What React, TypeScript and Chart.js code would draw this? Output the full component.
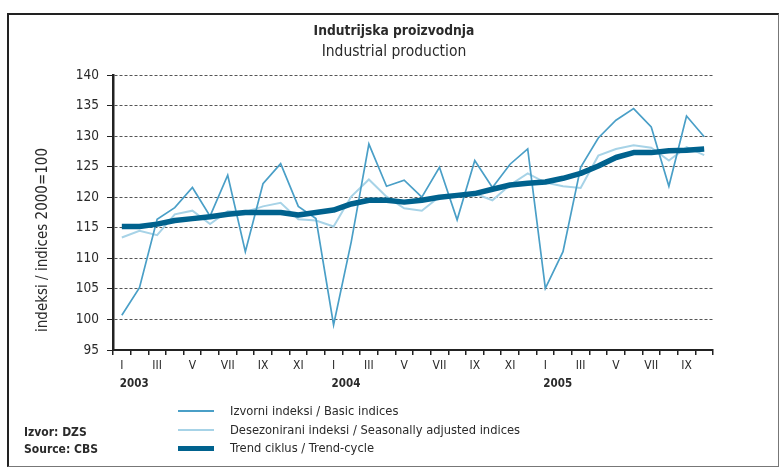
import React, { useEffect, useRef } from "react";
import { Chart, registerables } from "chart.js";

Chart.register(...registerables);

const monthNames = ["I", "II", "III", "IV", "V", "VI", "VII", "VIII", "IX", "X", "XI", "XII"];
const years = ["2003", "2004", "2005"];
const pointCount = 34; // Jan 2003 .. Oct 2005

const basicIndices = [
  100.7, 105.2, 116.4, 118.3, 121.6, 116.9, 123.6, 111.1, 122.2, 125.5, 118.5, 116.5,
  99.1, 112.7, 128.7, 121.8, 122.8, 120.0, 124.9, 116.3, 126.0, 121.6, 125.4, 127.9,
  105.1, 111.1, 124.9, 129.7, 132.6, 134.5, 131.5, 121.8, 133.3, 129.9,
];
const seasonallyAdjusted = [
  113.4, 114.5, 113.8, 117.2, 117.8, 115.6, 117.7, 117.6, 118.5, 119.1, 116.4, 116.2,
  115.2, 120.1, 122.9, 120.1, 118.2, 117.8, 120.1, 120.4, 120.6, 119.5, 122.0, 123.9,
  122.4, 121.8, 121.5, 126.8, 127.9, 128.5, 128.1, 126.0, 128.2, 126.9,
];
const trendCycle = [
  115.2, 115.2, 115.6, 116.2, 116.5, 116.8, 117.2, 117.5, 117.5, 117.5, 117.1, 117.5,
  117.9, 118.9, 119.5, 119.5, 119.2, 119.5, 120.0, 120.3, 120.6, 121.3, 122.0, 122.3,
  122.5, 123.1, 123.9, 125.1, 126.5, 127.3, 127.3, 127.6, 127.7, 127.9,
];
const yMin = 95;
const yMax = 140;
const yStep = 5;

const titleText = "Indutrijska proizvodnja";
const subtitleText = "Industrial production";
const yAxisTitle = "indeksi / indices 2000=100";
const seriesNames = [
  "Izvorni indeksi / Basic indices",
  "Desezonirani indeksi / Seasonally adjusted indices",
  "Trend ciklus / Trend-cycle",
];
const sourceLines = ["Izvor: DZS", "Source: CBS"];

const categories: string[] = [];
for (let i = 0; i < pointCount; i++) {
  categories.push(monthNames[i % 12] + " " + years[Math.floor(i / 12)]);
}

const FONT = '"Liberation Sans Narrow", "DejaVu Sans Condensed", "Liberation Sans", sans-serif';
const COL_BASIC = "#4a9fc7";
const COL_SEAS = "#a7d3e7";
const COL_TREND = "#00628e";
const TEXT = "#2a2a2a";

const extrasPlugin = {
  id: "extras",
  afterDraw(chart: any) {
    const ctx = chart.ctx;
    const xs = chart.scales.x;
    ctx.save();
    ctx.fillStyle = TEXT;
    ctx.font = "bold 11.5px " + FONT;
    ctx.textAlign = "left";
    ctx.textBaseline = "middle";
    years.forEach((yr, k) => {
      const px = xs.getPixelForValue(k * 12);
      ctx.fillText(yr, px - 2, 384);
    });
    ctx.font = "15px " + FONT;
    ctx.textAlign = "center";
    ctx.translate(43, 240);
    ctx.rotate(-Math.PI / 2);
    ctx.fillText(yAxisTitle, 0, 0);
    ctx.restore();
  },
};

export default function App() {
  const ref = useRef<HTMLCanvasElement | null>(null);
  useEffect(() => {
    document.body.style.margin = "0";
    const chart = new Chart(ref.current as HTMLCanvasElement, {
      type: "line",
      data: {
        labels: categories,
        datasets: [
          {
            label: seriesNames[0],
            data: basicIndices,
            borderColor: COL_BASIC,
            borderWidth: 1.7,
            pointRadius: 0,
            tension: 0,
            order: 1,
          },
          {
            label: seriesNames[1],
            data: seasonallyAdjusted,
            borderColor: COL_SEAS,
            borderWidth: 2,
            pointRadius: 0,
            tension: 0,
            order: 2,
          },
          {
            label: seriesNames[2],
            data: trendCycle,
            borderColor: COL_TREND,
            borderWidth: 5.5,
            pointRadius: 0,
            tension: 0,
            borderCapStyle: "butt",
            borderJoinStyle: "round",
            order: 0,
          },
        ],
      },
      options: {
        responsive: false,
        animation: false,
        devicePixelRatio: 1,
        layout: { padding: { top: 75, right: 66, left: 0, bottom: 0 } },
        plugins: { legend: { display: false }, title: { display: false }, tooltip: { enabled: false } },
        scales: {
          x: {
            type: "category",
            offset: true,
            afterFit: (s: any) => {
              s.height = 117;
            },
            grid: {
              offset: true,
              drawOnChartArea: false,
              drawTicks: true,
              tickLength: 5,
              color: "#222",
              lineWidth: 1.5,
            },
            border: { display: true, color: "#222", width: 2 },
            ticks: {
              autoSkip: false,
              maxRotation: 0,
              minRotation: 0,
              padding: 4,
              color: TEXT,
              font: { family: FONT, size: 12 },
              callback: (_v: any, idx: number) => (idx % 2 === 0 ? monthNames[idx % 12] : ""),
            },
          },
          y: {
            min: yMin,
            max: yMax,
            afterFit: (s: any) => {
              s.width = 113;
            },
            grid: {
              color: "#555",
              lineWidth: 1,
              tickLength: 6,
              tickColor: "#222",
              tickBorderDash: [],
            },
            border: { display: true, color: "#222", width: 2.5, dash: [3, 2] },
            ticks: {
              stepSize: yStep,
              padding: 8,
              color: TEXT,
              font: { family: FONT, size: 13.5 },
            },
          },
        },
      },
      plugins: [extrasPlugin],
    } as any);
    return () => chart.destroy();
  }, []);

  const legendRows = [
    { y: 411, color: COL_BASIC, h: 2 },
    { y: 429.5, color: COL_SEAS, h: 2 },
    { y: 448, color: COL_TREND, h: 5 },
  ];

  return (
    <div
      style={{
        position: "fixed",
        left: 0,
        top: 0,
        width: 779,
        height: 467,
        background: "#fff",
        fontFamily: FONT,
        color: TEXT,
        overflow: "hidden",
      }}
    >
      <div
        style={{
          position: "absolute",
          left: 7,
          top: 13,
          width: 772,
          height: 454,
          boxSizing: "border-box",
          borderTop: "2px solid #222",
          borderLeft: "2px solid #222",
          borderRight: "1px solid #777",
          borderBottom: "1px solid #777",
        }}
      />
      <canvas ref={ref} width={779} height={467} style={{ position: "absolute", left: 0, top: 0 }} />
      <div style={{ position: "absolute", left: 0, width: 788, top: 20, lineHeight: "20px", textAlign: "center", fontWeight: "bold", fontSize: 13.7 }}>
        {titleText}
      </div>
      <div style={{ position: "absolute", left: 0, width: 788, top: 41, lineHeight: "20px", textAlign: "center", fontSize: 15.5 }}>
        {subtitleText}
      </div>
      {legendRows.map((r, i) => (
        <React.Fragment key={i}>
          <div style={{ position: "absolute", left: 178, width: 36, top: r.y - r.h / 2, height: r.h, background: r.color }} />
          <div style={{ position: "absolute", left: 230, top: r.y - 10, lineHeight: "20px", fontSize: 12.8, whiteSpace: "nowrap" }}>
            {seriesNames[i]}
          </div>
        </React.Fragment>
      ))}
      {sourceLines.map((t, i) => (
        <div key={i} style={{ position: "absolute", left: 24, top: 432 + i * 17 - 10, lineHeight: "20px", fontSize: 12, fontWeight: "bold", whiteSpace: "nowrap" }}>
          {t}
        </div>
      ))}
    </div>
  );
}
